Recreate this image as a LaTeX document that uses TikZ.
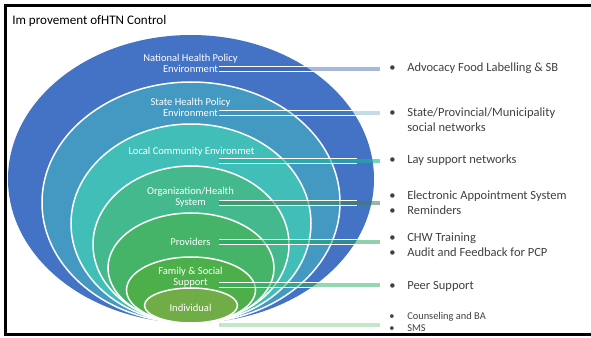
\documentclass[tikz,border=0pt]{standalone}
\usepackage{fontspec}
\setmainfont{Carlito}

\newcommand{\itemdot}{\makebox[0.45cm][l]{\textbullet}}

\tikzset{
  ring/.style={draw=white, line width=0.0375cm},
  lbl/.style={text=white, align=center, inner sep=0pt, font=\fontsize{7.5}{7.9}\selectfont},
  itm/.style={anchor=west, inner sep=0pt, align=left, text=r64g64b64, font=\fontsize{8.9}{10.7}\selectfont},
  smallitm/.style={itm, font=\fontsize{7.4}{8.5}\selectfont},
  bar/.style={line width=0.095cm, shorten >=0.225cm,
    postaction={draw=white, draw opacity=1, line width=0.028cm, shorten >=0.8cm, transform canvas={yshift=0.058cm}},
    postaction={draw=white, draw opacity=1, line width=0.028cm, shorten >=0.8cm, transform canvas={yshift=-0.058cm}}},
}

\begin{document}
\begin{tikzpicture}
                        \useasboundingbox (0,0) rectangle (14.775000,8.425000);
                        {\footnotesize

                        % Frame round the slide (right side lies off the page)
                        \draw [line width=0.075cm] (15.500000,0.075000) -| (0.150000,8.275000) -- (15.500000,8.275000);%

                        % Title
                        \node (title) [anchor=base west, inner sep=0pt, font=\fontsize{9.3}{11}\selectfont] at (0.300000,7.800000) {Im provement ofHTN Control};%

                        % Changing colors of the rings
                        \definecolor{r68g114b196}{rgb}{0.266667,0.447059,0.768627}%
                        \definecolor{r67g153b193}{rgb}{0.262745,0.600000,0.756863}%
                        \definecolor{r66g190b184}{rgb}{0.258824,0.745098,0.721569}%
                        \definecolor{r68g185b141}{rgb}{0.266667,0.725490,0.552941}%
                        \definecolor{r70g180b104}{rgb}{0.274510,0.705882,0.407843}%
                        \definecolor{r76g175b74}{rgb}{0.298039,0.686275,0.290196}%
                        \definecolor{r112g173b71}{rgb}{0.439216,0.678431,0.278431}%
                        \definecolor{r64g64b64}{rgb}{0.250980,0.250980,0.250980}%

                        % Filling ellipse National
                        \fill [r68g114b196] (4.775000,3.950000) ellipse (4.575000 and 3.600000);%

                        % Filling ellipse State
                        \filldraw [ring, fill=r67g153b193] (4.775000,3.362500) ellipse (3.725000 and 3.012500);%

                        % Filling ellipse Local
                        \filldraw [ring, fill=r66g190b184] (4.775000,2.837500) ellipse (3.000000 and 2.487500);%

                        % Filling ellipse Organization
                        \filldraw [ring, fill=r68g185b141] (4.775000,2.312500) ellipse (2.450000 and 1.962500);%

                        % Filling ellipse Providers
                        \filldraw [ring, fill=r70g180b104] (4.775000,1.725000) ellipse (2.075000 and 1.375000);%

                        % Filling ellipse Family
                        \filldraw [ring, fill=r76g175b74] (4.775000,1.175000) ellipse (1.612500 and 0.825000);%

                        % Filling ellipse Individual
                        \filldraw [ring, fill=r112g173b71] (4.775000,0.787500) ellipse (1.162500 and 0.437500);%

                        % Ring labels
                        \node (national) [lbl] at (4.762500,6.837500) {National Health Policy\\Environment};%
                        \node (state) [lbl] at (4.762500,5.750000) {State Health Policy\\Environment};%
                        \node (local) [lbl] at (4.787500,4.625000) {Local Community Environmet};%
                        \node (organization) [lbl] at (4.762500,3.500000) {Organization/Health\\System};%
                        \node (providers) [lbl] at (4.762500,2.385000) {Providers};%
                        \node (family) [lbl] at (4.762500,1.500000) {Family \&  Social\\Support};%
                        \node (individual) [lbl] at (4.762500,0.725000) {Individual};%

                        % Interventions
                        \node (advocacy) [itm] at (9.725000,6.725000) {\itemdot Advocacy Food Labelling \& SB};%
                        \node (networks) [itm] at (9.725000,5.437500) {\itemdot State/Provincial/Municipality\\\hspace*{0.45cm}social networks};%
                        \node (lay) [itm] at (9.725000,4.425000) {\itemdot Lay support networks};%
                        \node (appointment) [itm] at (9.725000,3.362500) {\itemdot Electronic Appointment System\\\itemdot Reminders};%
                        \node (training) [itm] at (9.725000,2.312500) {\itemdot CHW Training\\\itemdot Audit and Feedback for PCP};%
                        \node (peer) [itm] at (9.725000,1.275000) {\itemdot Peer Support};%
                        \node (counseling) [smallitm] at (9.725000,0.375000) {\itemdot Counseling and  BA\\\itemdot SMS};%

                        % Changing colors of the bars
                        \definecolor{r59g100b175}{rgb}{0.231373,0.392157,0.686275}%
                        \definecolor{r58g140b180}{rgb}{0.227451,0.549020,0.705882}%
                        \definecolor{r27g181b160}{rgb}{0.105882,0.709804,0.627451}%
                        \definecolor{r63g127b90}{rgb}{0.247059,0.498039,0.352941}%
                        \definecolor{r31g163b94}{rgb}{0.121569,0.639216,0.368627}%
                        \definecolor{r46g174b98}{rgb}{0.180392,0.682353,0.384314}%
                        \definecolor{r108g192b122}{rgb}{0.423529,0.752941,0.478431}%

                        % Drawing bars from rings to interventions
                        \coordinate (nationalbar) at (5.475000,6.700000);%
                        \coordinate (statebar) at (5.475000,5.600000);%
                        \coordinate (localbar) at (5.475000,4.400000);%
                        \coordinate (organizationbar) at (5.475000,3.350000);%
                        \coordinate (providersbar) at (5.475000,2.375000);%
                        \coordinate (familybar) at (5.475000,1.300000);%
                        \coordinate (individualbar) at (5.475000,0.300000);%
                        \draw [bar, draw=r59g100b175, draw opacity=0.45] (nationalbar) -- (nationalbar -| advocacy.west);%
                        \draw [bar, draw=r58g140b180, draw opacity=0.30] (statebar) -- (statebar -| networks.west);%
                        \draw [bar, draw=r27g181b160, draw opacity=0.60] (localbar) -- (localbar -| lay.west);%
                        \draw [bar, draw=r63g127b90, draw opacity=0.55] (organizationbar) -- (organizationbar -| appointment.west);%
                        \draw [bar, draw=r31g163b94, draw opacity=0.50] (providersbar) -- (providersbar -| training.west);%
                        \draw [bar, draw=r46g174b98, draw opacity=0.50] (familybar) -- (familybar -| peer.west);%
                        \draw [bar, draw=r108g192b122, draw opacity=0.40] (individualbar) -- (individualbar -| counseling.west);%
                        }
                        \end{tikzpicture}
\end{document}
